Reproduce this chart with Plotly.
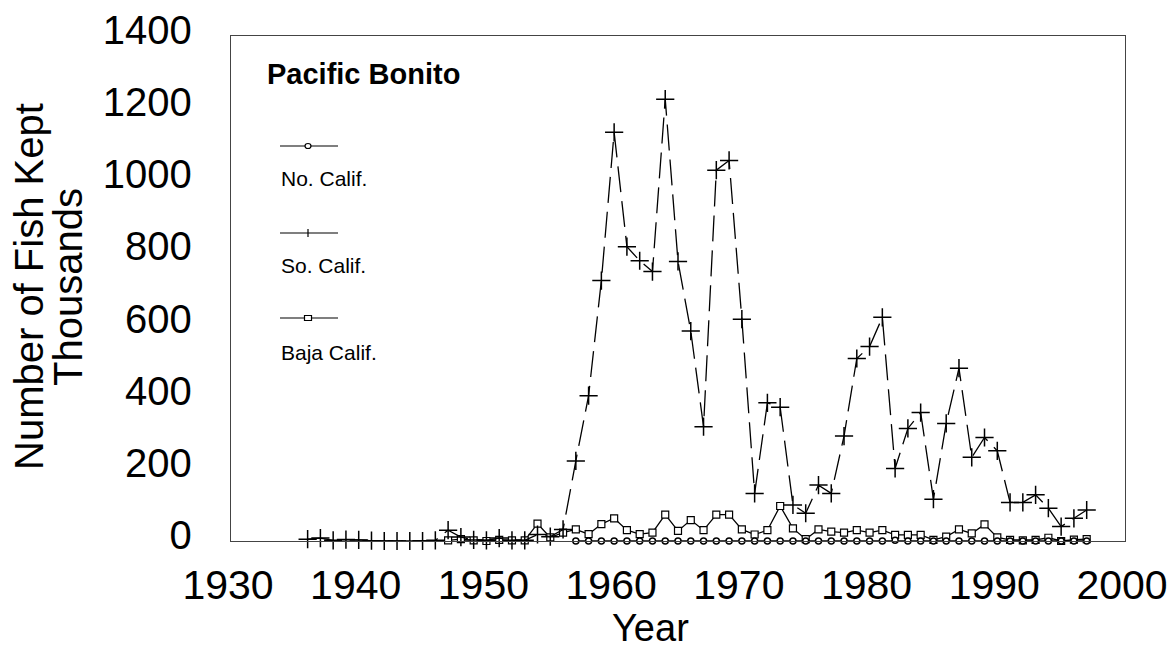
import plotly.graph_objects as go

# ---------------- data ----------------
years_no = list(range(1957, 1998))
no_calif = [0, 0, 0, 0, 0, 0, 0, 0, 0, 0,
            0, 0, 0, 0, 0, 0, 0, 0, 0, 0,
            0, 0, 0, 0, 0, 2, 0, 0, 0, 0,
            0, 0, 0, 0, 0, 0, 0, 0, 0, 0,
            0]

years_so = list(range(1936, 1998))
so_calif = [5, 8, 2, 4, 3, 1, 0, 0, 0, 0, 2,
            30, 11, 3, 2, 8, 2, 2, 18, 12, 32,
            222, 403, 722, 1133, 816, 777, 747, 1225, 775, 582,
            317, 1028, 1055, 615, 132, 383, 371, 100, 77, 155,
            132, 291, 506, 539, 620, 201, 312, 356, 116, 326,
            479, 232, 287, 250, 107, 107, 128, 91, 40, 63,
            86]

years_baja = list(range(1947, 1998))
baja_calif = [2, 5, 2, 0, 3, 2, 2, 48, 10, 23,
              32, 19, 47, 63, 30, 19, 23, 73, 28, 58,
              30, 73, 73, 32, 18, 30, 97, 35, 5, 32,
              26, 23, 30, 23, 30, 17, 17, 17, 3, 12,
              32, 21, 46, 10, 3, 2, 3, 9, 0, 4,
              5]

series_names = ["No. Calif.", "So. Calif.", "Baja Calif."]
chart_title = "Pacific Bonito"
x_title = "Year"
y_title_lines = ["Number of Fish Kept", "Thousands"]
x_ticks = [1930, 1940, 1950, 1960, 1970, 1980, 1990, 2000]
y_ticks = [0, 200, 400, 600, 800, 1000, 1200, 1400]

# ---------------- layout geometry ----------------
W, H = 1171, 651
L, R, T, B = 231, 1125, 36, 541
PW, PH = R - L, B - T
FONT = "Liberation Sans, Arial, sans-serif"


def px(x):
    return (x - L) / PW


def py(y):
    return (B - y) / PH


fig = go.Figure()

fig.add_trace(go.Scatter(
    x=years_baja, y=baja_calif, mode="lines+markers", name=series_names[2],
    line=dict(color="black", width=1.3),
    marker=dict(symbol="square", size=7, color="white",
                line=dict(color="black", width=1.2)),
    cliponaxis=False, showlegend=False))

fig.add_trace(go.Scatter(
    x=years_no, y=no_calif, mode="lines+markers", name=series_names[0],
    line=dict(color="black", width=1.5),
    marker=dict(symbol="circle", size=6, color="white",
                line=dict(color="black", width=1.5)),
    cliponaxis=False, showlegend=False))

fig.add_trace(go.Scatter(
    x=years_so, y=so_calif, mode="lines+markers", name=series_names[1],
    line=dict(color="black", width=1.3, dash="26px,9px"),
    marker=dict(symbol="cross-thin", size=13, color="black",
                line=dict(color="black", width=1.5)),
    cliponaxis=False, showlegend=False))

shapes = []
annotations = []

# chart title inside plot
annotations.append(dict(
    x=px(265), y=py(74), xref="paper", yref="paper", xanchor="left",
    yanchor="middle", text="<b>" + chart_title + "</b>", showarrow=False,
    font=dict(family=FONT, size=29, color="black")))

# custom stacked legend: sample line above label
legend_rows = [(146, 178, "circle"), (233, 265, "plus"), (318, 352, "square")]
for name, (ly, ty, kind) in zip(series_names, legend_rows):
    shapes.append(dict(type="line", xref="paper", yref="paper",
                       x0=px(280), x1=px(338), y0=py(ly), y1=py(ly),
                       line=dict(color="black", width=1.2)))
    cx = 308
    if kind == "circle":
        shapes.append(dict(type="circle", xref="paper", yref="paper",
                           x0=px(cx - 3), x1=px(cx + 3), y0=py(ly + 2.5), y1=py(ly - 2.5),
                           fillcolor="white", line=dict(color="black", width=1.2)))
    elif kind == "square":
        shapes.append(dict(type="rect", xref="paper", yref="paper",
                           x0=px(cx - 3.5), x1=px(cx + 3.5), y0=py(ly + 2.5), y1=py(ly - 2.5),
                           fillcolor="white", line=dict(color="black", width=1.2)))
    else:
        shapes.append(dict(type="line", xref="paper", yref="paper",
                           x0=px(cx), x1=px(cx), y0=py(ly + 4), y1=py(ly - 4),
                           line=dict(color="black", width=1.2)))
    annotations.append(dict(
        x=px(279), y=py(ty), xref="paper", yref="paper", xanchor="left",
        yanchor="middle", text=name, showarrow=False,
        font=dict(family=FONT, size=21, color="black")))

# axis titles
annotations.append(dict(
    x=px(650), y=py(628), xref="paper", yref="paper", xanchor="center",
    yanchor="middle", text=x_title, showarrow=False,
    font=dict(family=FONT, size=38, color="black")))
for line_text, lx in zip(y_title_lines, [29, 68]):
    annotations.append(dict(
        x=px(lx), y=py(287), xref="paper", yref="paper", xanchor="center",
        yanchor="middle", text=line_text, showarrow=False,
        textangle=-90, font=dict(family=FONT, size=40, color="black")))

fig.update_layout(
    width=W, height=H,
    margin=dict(l=L, r=W - R, t=T, b=H - B, pad=0, autoexpand=False),
    paper_bgcolor="white", plot_bgcolor="white",
    font=dict(family=FONT, color="black"),
    shapes=shapes, annotations=annotations,
    showlegend=False,
)

fig.update_xaxes(
    range=[1930, 2000], tickvals=x_ticks, ticktext=[str(v) for v in x_ticks],
    showgrid=False, zeroline=False, showline=True, mirror=True, automargin=False,
    linecolor="#444", linewidth=1.3, ticks="", ticklabelstandoff=8,
    ticklabelshift=-3,
    tickfont=dict(family=FONT, size=41, color="black"))

fig.update_yaxes(
    range=[0, 1400], tickvals=y_ticks, ticktext=[str(v) for v in y_ticks],
    showgrid=False, zeroline=False, showline=True, mirror=True, automargin=False,
    linecolor="#444", linewidth=1.3, ticks="", ticklabelstandoff=30,
    ticklabelshift=-6,
    tickfont=dict(family=FONT, size=40, color="black"))

fig.write_html(
    "out.html",
    config={"displayModeBar": False},
    post_script="document.body.style.margin='0px';document.body.style.overflow='hidden';",
)
